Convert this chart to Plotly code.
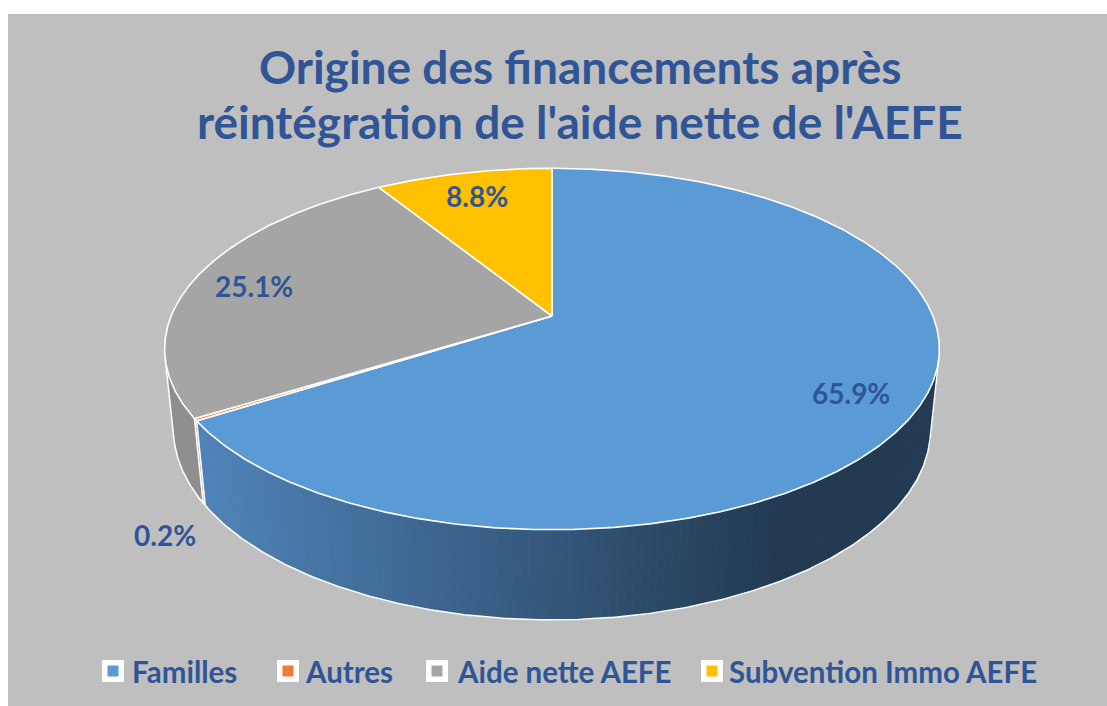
import numpy as np
import plotly.graph_objects as go

# ---------------- data ----------------
categories = ["Familles", "Autres", "Aide nette AEFE", "Subvention Immo AEFE"]
values = [65.9, 0.2, 25.1, 8.8]
label_texts = ["65.9%", "0.2%", "25.1%", "8.8%"]
title_lines = ["Origine des financements après",
               "réintégration de l'aide nette de l'AEFE"]

# ---------------- styles / layout constants ----------------
top_colors = ["#5b9bd5", "#ed7d31", "#a5a5a5", "#ffc000"]
side_colors = [None, "#b25e25", "#8e8e8e", "#bf9000"]
grad_left, grad_right = (0x4f, 0x83, 0xb8), (0x22, 0x3a, 0x52)
grad_x0, grad_x1 = 200, 780
TEXT = "#2f5597"
FONT = "Lato"
W, Hpx = 1107, 706
legend_marker_x = [113, 288, 437, 712]
legend_text_x = [130, 303, 455, 727]
legend_y = 671

# 3D perspective camera (pixel space)
CX, CY = 552, 316
ALPHA = np.radians(27.3)
D = 4.87
FOC = 1855
THICK = 0.238
sa, ca = np.sin(ALPHA), np.cos(ALPHA)


def project(r, theta_deg, z):
    th = np.radians(theta_deg)
    px, pz, py = r * np.sin(th), r * np.cos(th), z
    yc = py * ca + pz * sa
    zc = -py * sa + D + pz * ca
    return CX + FOC * px / zc, CY - FOC * yc / zc


def arc(r, a, b, z, n=None):
    if n is None:
        n = max(2, int(abs(b - a) / 0.5) + 2)
    ts = np.linspace(a, b, n)
    pts = [project(r, t, z) for t in ts]
    return [p[0] for p in pts], [p[1] for p in pts]


def grad_color(x):
    f = min(1.0, max(0.0, (x - grad_x0) / (grad_x1 - grad_x0)))
    c = [round(grad_left[i] + (grad_right[i] - grad_left[i]) * f) for i in range(3)]
    return "rgb(%d,%d,%d)" % tuple(c)


fig = go.Figure()

# slice angles (clockwise from 12 o'clock)
total = sum(values)
bounds = []
acc = 0.0
for v in values:
    a = acc / total * 360.0
    acc += v
    b = acc / total * 360.0
    bounds.append((a, b))

vis_lo = np.degrees(np.arccos(-1.0 / (D * ca)))
vis_hi = 360.0 - vis_lo

# ---- side faces ----
for i, (a, b) in enumerate(bounds):
    lo, hi = max(a, vis_lo), min(b, vis_hi)
    if hi <= lo:
        continue
    steps = max(1, int((hi - lo) / 1.0))
    edges = np.linspace(lo, hi, steps + 1)
    for j in range(steps):
        t0, t1 = edges[j], edges[j + 1]
        tx, ty = arc(1.0, t0, t1, 0.0, 3)
        bx, by = arc(1.0, t1, t0, -THICK, 3)
        xs = tx + bx + [tx[0]]
        ys = ty + by + [ty[0]]
        col = grad_color(np.mean(tx)) if side_colors[i] is None else side_colors[i]
        fig.add_trace(go.Scatter(x=xs, y=ys, fill="toself", fillcolor=col,
                                 mode="lines", line=dict(color=col, width=0.8),
                                 hoverinfo="skip", showlegend=False))

# side outlines (white)
bx, by = arc(1.0, vis_lo, vis_hi, -THICK)
fig.add_trace(go.Scatter(x=bx, y=by, mode="lines", line=dict(color="white", width=1.6),
                         hoverinfo="skip", showlegend=False))
edge_angles = [vis_lo, vis_hi] + [b for (a, b) in bounds if vis_lo < b < vis_hi]
for t in edge_angles:
    p0, p1 = project(1.0, t, 0.0), project(1.0, t, -THICK)
    fig.add_trace(go.Scatter(x=[p0[0], p1[0]], y=[p0[1], p1[1]], mode="lines",
                             line=dict(color="white", width=1.6),
                             hoverinfo="skip", showlegend=False))

# ---- top faces ----
for i, (a, b) in enumerate(bounds):
    ax_, ay_ = arc(1.0, a, b, 0.0)
    xs = [CX] + ax_ + [CX]
    ys = [CY] + ay_ + [CY]
    fig.add_trace(go.Scatter(x=xs, y=ys, fill="toself", fillcolor=top_colors[i],
                             mode="lines", line=dict(color="white", width=1.6),
                             name=categories[i], hoverinfo="name", showlegend=False))

# ---- data labels ----
annotations = []
for i, (a, b) in enumerate(bounds):
    mid = (a + b) / 2
    if values[i] < 1:
        x, y = project(1.1, mid, -THICK)
        y += 18
    else:
        x, y = project(0.83, mid, 0.0)
        y += 2
    annotations.append(dict(x=x, y=y, xref="x", yref="y", text=label_texts[i],
                            showarrow=False,
                            font=dict(family=FONT, size=28, color=TEXT, weight="bold")))

# ---- title ----
for k, line in enumerate(title_lines):
    annotations.append(dict(x=580, y=66 + 55 * k, xref="x", yref="y", text=line,
                            showarrow=False,
                            font=dict(family=FONT, size=46, color=TEXT, weight="bold")))

# ---- legend (drawn manually) ----
fig.add_trace(go.Scatter(x=legend_marker_x, y=[legend_y] * 4, mode="markers",
                         marker=dict(symbol="square", size=22, color="white"),
                         hoverinfo="skip", showlegend=False))
fig.add_trace(go.Scatter(x=legend_marker_x, y=[legend_y] * 4, mode="markers",
                         marker=dict(symbol="square", size=11, color=top_colors),
                         text=categories, hoverinfo="text", showlegend=False))
for i, c in enumerate(categories):
    annotations.append(dict(x=legend_text_x[i], y=legend_y, xref="x", yref="y",
                            text=c, showarrow=False, xanchor="left",
                            font=dict(family=FONT, size=29.5, color=TEXT, weight="bold")))

fig.update_layout(
    width=W, height=Hpx,
    margin=dict(l=0, r=0, t=0, b=0),
    paper_bgcolor="white",
    plot_bgcolor="rgba(0,0,0,0)",
    xaxis=dict(range=[0, W], visible=False, fixedrange=True),
    yaxis=dict(range=[Hpx, 0], visible=False, fixedrange=True),
    shapes=[dict(type="rect", xref="x", yref="y", x0=8, x1=W, y0=14, y1=Hpx,
                 fillcolor="#bfbfbf", line=dict(width=0), layer="below")],
    annotations=annotations,
    showlegend=False,
)

fig.write_html("out.html", config={"displayModeBar": False})
with open("out.html", encoding="utf-8") as fh:
    html = fh.read()
html = html.replace("<body>", '<body style="margin:0;padding:0;overflow:hidden">', 1)
with open("out.html", "w", encoding="utf-8") as fh:
    fh.write(html)
